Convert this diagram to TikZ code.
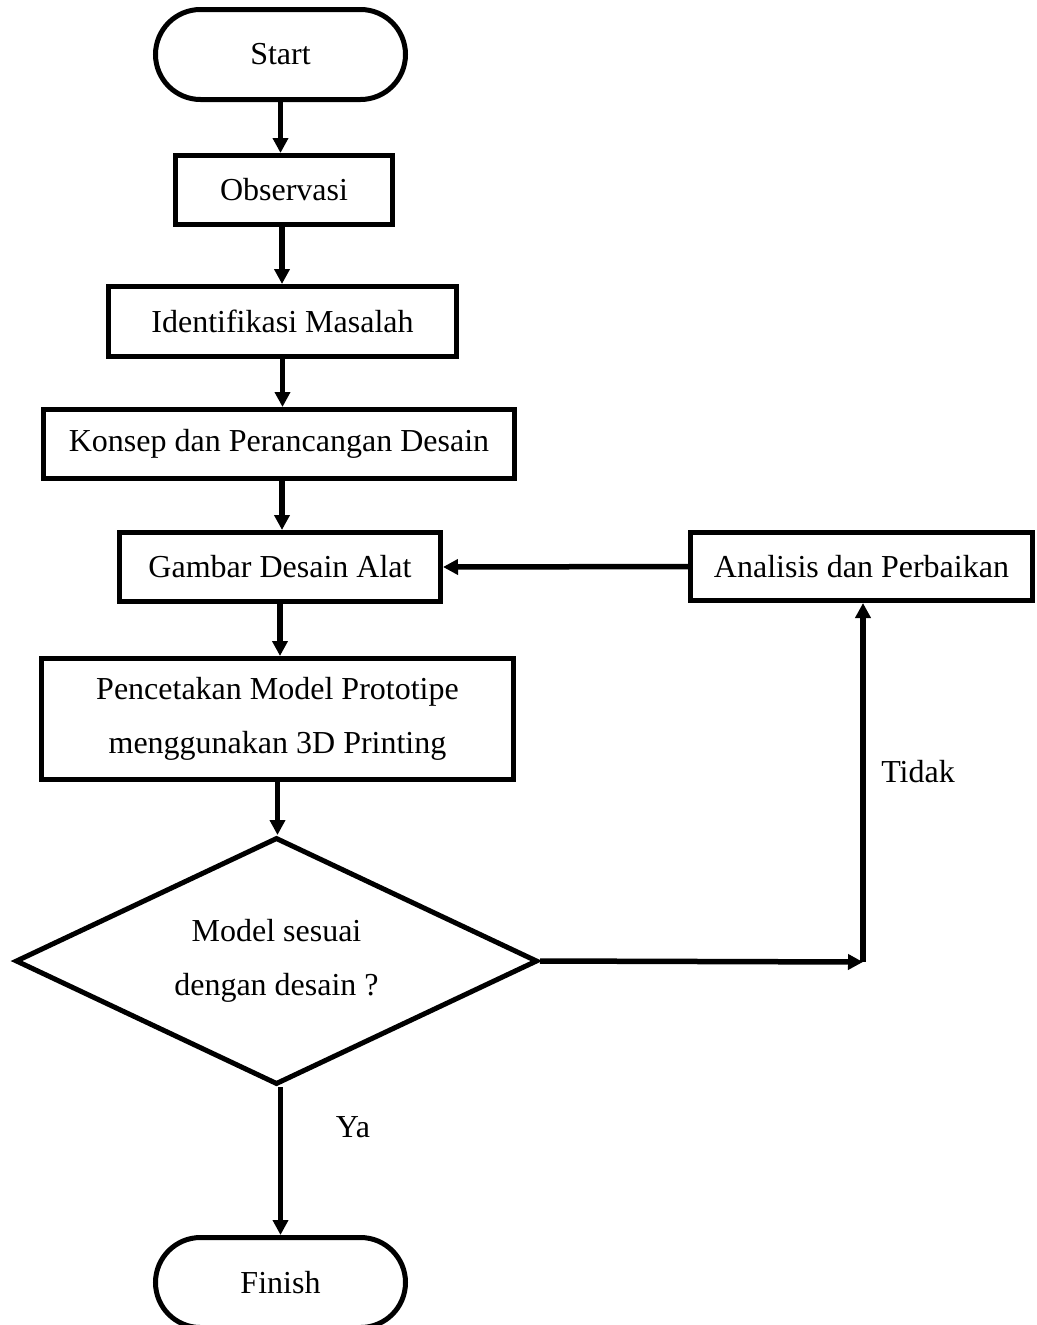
\documentclass[tikz,border=0pt]{standalone}
\usepackage{fontspec}
\setmainfont{Liberation Serif}
\usetikzlibrary{arrows.meta,shapes.geometric}
\begin{document}
\begin{tikzpicture}[x=1pt,y=-1pt,
  every node/.style={font={\fontsize{32}{54}\selectfont}},
  box/.style={draw,line width=5pt,minimum width=#1,inner sep=0pt,align=center},
  term/.style={draw,line width=5pt,rounded corners=45pt,minimum width=250pt,minimum height=90pt,inner sep=0pt},
  dec/.style={draw,line width=5pt,diamond,aspect=2.1,minimum width=522pt,minimum height=247pt,inner sep=0pt,align=center},
  arr/.style={line width=5.5pt,-{Triangle[length=15pt,width=15pt]}},
  lbl/.style={inner sep=0pt}]
\useasboundingbox (0,0) rectangle (1036,1325);
\node[term] (start) at (280.5,54.5) {Start};
\node[box=217pt,minimum height=69pt] (obs) at (284,190) {Observasi};
\node[box=348pt,minimum height=70pt] (ident) at (282.5,321.5) {Identifikasi Masalah};
\node[box=471pt,minimum height=69pt] (konsep) at (279,444) {Konsep dan Perancangan Desain};
\node[box=321pt,minimum height=69pt] (gambar) at (280,567) {Gambar Desain Alat};
\node[box=342pt,minimum height=68pt] (analisis) at (861.5,566.5) {Analisis dan Perbaikan};
\node[box=472pt,minimum height=121pt] (cetak) at (277.5,719) {Pencetakan Model Prototipe\\menggunakan 3D Printing};
\node[dec] (cek) at (276.5,961) {Model sesuai\\dengan desain ?};
\node[term] (finish) at (280.5,1282.5) {Finish};
\coordinate (corner) at (863,962);
\node[lbl] (ya) at (353,1127) {Ya};
\node[lbl] (tidak) at (918,772) {Tidak};
\draw[arr] (start.south) -- (start.south |- obs.north);
\draw[arr] ([xshift=-2pt]obs.south) -- ([xshift=-2pt]obs.south |- ident.north);
\draw[arr] (ident.south) -- (ident.south |- konsep.north);
\draw[arr] ([xshift=3pt]konsep.south) -- ([xshift=3pt]konsep.south |- gambar.north);
\draw[arr] (gambar.south) -- (gambar.south |- cetak.north);
\draw[arr] (cetak.south) -- (cetak.south |- cek.north);
\draw[arr] ([xshift=4pt]cek.south) -- ([xshift=4pt]cek.south |- finish.north);
\draw[arr] (cek.east) -- (corner);
\draw[arr] (corner) -- (corner |- analisis.south);
\draw[arr] (analisis.west) -- (gambar.east);
\end{tikzpicture}
\end{document}
